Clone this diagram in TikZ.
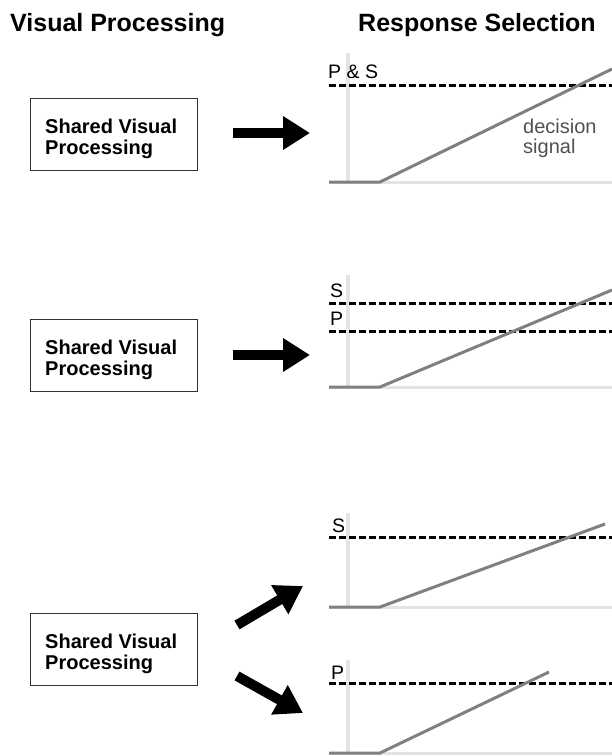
\documentclass[tikz,border=0pt]{standalone}
\usepackage{fontspec}
\setmainfont{Liberation Sans}
\usetikzlibrary{arrows.meta}
\definecolor{axisgray}{RGB}{228,228,228}
\definecolor{sigray}{RGB}{128,128,128}
\definecolor{txtgray}{RGB}{80,80,80}
\begin{document}
\begin{tikzpicture}[x=1pt,y=-1pt,
  axisline/.style={axisgray, line width=3.5pt},
  baseln/.style={axisgray, line width=3pt},
  signal/.style={sigray, line width=3pt},
  thresh/.style={black, line width=3pt, dash pattern=on 6.5pt off 3.5pt},
  bigarrow/.style={black, line width=10pt, -{Triangle[length=27pt,width=32pt]}},
  procbox/.style={draw=black!80, line width=0.8pt, minimum width=167pt, minimum height=72pt, inner sep=0pt, anchor=north west},
  boxtext/.style={font=\fontsize{20}{21.7}\selectfont\bfseries, align=left, anchor=base west, inner sep=0pt},
  header/.style={font=\fontsize{25}{30}\selectfont\bfseries, anchor=base west, inner sep=0pt},
  lbl/.style={font=\fontsize{19.5}{22}\selectfont, anchor=base west, inner sep=0pt},
  dec/.style={font=\fontsize{20}{20}\selectfont, text=txtgray, align=left, anchor=base west, inner sep=0pt}
]
\useasboundingbox (0,0) rectangle (612,756);

% headers
\node[header] (hvis) at (10,31) {Visual Processing};
\node[header] (hresp) at (358,31) {Response Selection};

% boxes (base anchor = baseline of the last line)
\node[procbox] (box1) at (30,98) {};
\node[boxtext] (t1) at (45,154.7) {Shared Visual\\Processing};
\node[procbox] (box2) at (30,319) {};
\node[boxtext] (t2) at (45,375.7) {Shared Visual\\Processing};
\node[procbox] (box3) at (30,613) {};
\node[boxtext] (t3) at (45,669.7) {Shared Visual\\Processing};

% arrows
\coordinate (a1s) at (233,133); \coordinate (a1e) at (310,133);
\coordinate (a2s) at (233,355); \coordinate (a2e) at (310,355);
\coordinate (a3s) at (237,625); \coordinate (a3e) at (303,586);
\coordinate (a4s) at (237,676); \coordinate (a4e) at (303,713);
\draw[bigarrow] (a1s) -- (a1e);
\draw[bigarrow] (a2s) -- (a2e);
\draw[bigarrow] (a3s) -- (a3e);
\draw[bigarrow] (a4s) -- (a4e);

% panel 1
\draw[axisline] (348,53) -- (348,182);
\draw[baseln] (329,182) -- (612,182);
\draw[thresh] (329,85) -- (612,85);
\draw[signal] (329,182) -- (380,182) -- (612,69);
\node[lbl] (ps1) at (328,78) {P \& S};
\node[dec] (ds) at (523,153) {decision\\signal};

% panel 2
\draw[axisline] (348,275) -- (348,387);
\draw[baseln] (329,387) -- (612,387);
\draw[thresh] (329,303) -- (612,303);
\draw[thresh] (329,331) -- (612,331);
\draw[signal] (329,387) -- (380,387) -- (612,290);
\node[lbl] (s2) at (330,297) {S};
\node[lbl] (p2) at (330,325) {P};

% panel 3a
\draw[axisline] (348,513) -- (348,607);
\draw[baseln] (329,607) -- (612,607);
\draw[thresh] (329,537) -- (612,537);
\draw[signal] (329,607) -- (380,607) -- (605,524);
\node[lbl] (s3) at (332,532) {S};

% panel 3b
\draw[axisline] (348,660) -- (348,753);
\draw[baseln] (329,753) -- (612,753);
\draw[thresh] (329,683) -- (612,683);
\draw[signal] (329,753) -- (380,753) -- (549,672);
\node[lbl] (p3) at (331,679) {P};
\end{tikzpicture}
\end{document}
